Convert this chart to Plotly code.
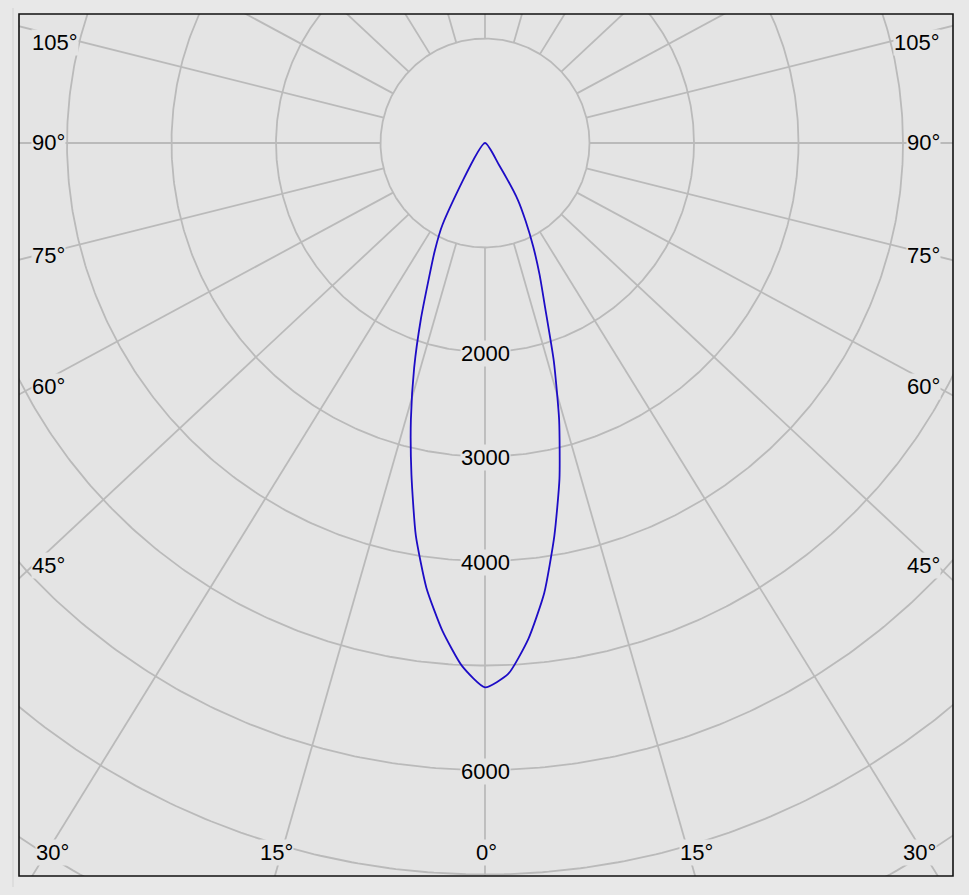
import numpy as np
import plotly.graph_objects as go

# ---------------- data ----------------
# gamma angles (deg from nadir) and luminous intensity (cd) of the two half-planes
gamma_right = [0, 2.5, 5, 7.5, 10, 12.5, 15, 17.5, 20, 22.5, 25, 27.5, 30, 32.5, 35]
cd_right = [5209, 5086, 4763, 4343, 3820, 3292, 2741, 2191, 1687, 1366, 1090, 844, 630, 250, 0]
gamma_left = [0, 2.5, 5, 7.5, 10, 12.5, 15, 17.5, 20, 22.5, 25, 27.5, 30]
cd_left = [5209, 5011, 4684, 4294, 3813, 3252, 2740, 2254, 1795, 1405, 1137, 879, 0]

circle_values = [1000, 2000, 3000, 4000, 5000, 6000, 7000, 8000]
radial_label_values = [2000, 3000, 4000, 6000]
spoke_angles = list(range(0, 181, 15))
side_angle_labels = ["105°", "90°", "75°", "60°", "45°"]
bottom_angle_labels = ["30°", "15°", "0°", "15°", "30°"]

# ---------------- layout geometry (pixels) ----------------
W, H = 969, 895
L, R, T, B = 19, 953, 14, 876          # frame
CX, CY = 485, 143                      # pole position
S = 0.1045                             # px per cd
K = 1.07                               # horizontal stretch of the spokes

def px_to_x(px):
    return (px - CX) / S

def py_to_y(py):
    return -(py - CY) / S

PLOT_BG = "#e4e4e4"
PAPER_BG = "#e8e8e8"
GRID = "#bababa"

fig = go.Figure()

# circles
t = np.linspace(0, 2 * np.pi, 721)
for r in circle_values:
    fig.add_trace(go.Scatter(x=r * np.cos(t), y=r * np.sin(t), mode="lines",
                             line=dict(color=GRID, width=1.8), hoverinfo="skip",
                             showlegend=False))

# spokes (start on the first circle)
r0 = circle_values[0]
for a in spoke_angles:
    th = np.radians(a)
    for sgn in ([1] if a in (0, 180) else [1, -1]):
        dx, dy = sgn * K * np.sin(th), -np.cos(th)
        n = np.hypot(dx, dy)
        dx, dy = dx / n, dy / n
        fig.add_trace(go.Scatter(x=[r0 * dx, 12000 * dx], y=[r0 * dy, 12000 * dy],
                                 mode="lines", line=dict(color=GRID, width=1.8),
                                 hoverinfo="skip", showlegend=False))

# intensity curve
gl = np.radians(gamma_left[::-1])
il = np.array(cd_left[::-1], dtype=float)
gr = np.radians(gamma_right[1:])
ir = np.array(cd_right[1:], dtype=float)
xs = np.concatenate([-il * np.sin(gl), ir * np.sin(gr)])
ys = np.concatenate([-il * np.cos(gl), -ir * np.cos(gr)])
fig.add_trace(go.Scatter(x=xs, y=ys, mode="lines",
                         line=dict(color="#1d0cc6", width=1.8, shape="spline",
                                   smoothing=0.55),
                         showlegend=False))

font = dict(family="Liberation Sans, Arial, sans-serif", size=22, color="#000000")
ann = []
for v in radial_label_values:
    ann.append(dict(x=0, y=-v, text=str(v), showarrow=False, xref="x", yref="y",
                    font=font, bgcolor=PLOT_BG, borderpad=0, yshift=-1))

side_y = [42.5, 142.5, 255, 386.5, 565]
for txt, py in zip(side_angle_labels, side_y):
    ann.append(dict(x=px_to_x(30.5), y=py_to_y(py), text=txt, showarrow=False,
                    xanchor="left", font=font, bgcolor=PLOT_BG, borderpad=0))
    ann.append(dict(x=px_to_x(941), y=py_to_y(py), text=txt, showarrow=False,
                    xanchor="right", font=font, bgcolor=PLOT_BG, borderpad=0))

bottom_pos = [(35, "left"), (294, "right"), (486, "center"), (679, "left"), (937, "right")]
for txt, (px, anc) in zip(bottom_angle_labels, bottom_pos):
    ann.append(dict(x=px_to_x(px), y=py_to_y(852), text=txt, showarrow=False,
                    xanchor=anc, font=font, bgcolor=PLOT_BG, borderpad=0))

fig.update_layout(
    width=W, height=H,
    margin=dict(l=L, r=W - R, t=T, b=H - B, pad=0),
    paper_bgcolor=PAPER_BG, plot_bgcolor=PLOT_BG,
    xaxis=dict(range=[px_to_x(L), px_to_x(R)], visible=False, fixedrange=True),
    yaxis=dict(range=[py_to_y(B), py_to_y(T)], visible=False, fixedrange=True),
    annotations=ann,
    shapes=[
        dict(type="rect", xref="paper", yref="paper", x0=0, x1=1, y0=0, y1=1,
             line=dict(color="#111111", width=1.6), layer="above"),
        dict(type="line", xref="paper", yref="paper",
             x0=(13 - L) / (R - L), x1=(13 - L) / (R - L),
             y0=(B - 887) / (B - T), y1=(B - 8) / (B - T),
             line=dict(color="#d2d2d2", width=1)),
    ],
    showlegend=False,
)

fig.write_html(
    "out.html",
    config={"displayModeBar": False},
    post_script="document.body.style.margin='0px';"
                "document.body.style.background='#e8e8e8';"
                "document.body.style.overflow='hidden';",
)
